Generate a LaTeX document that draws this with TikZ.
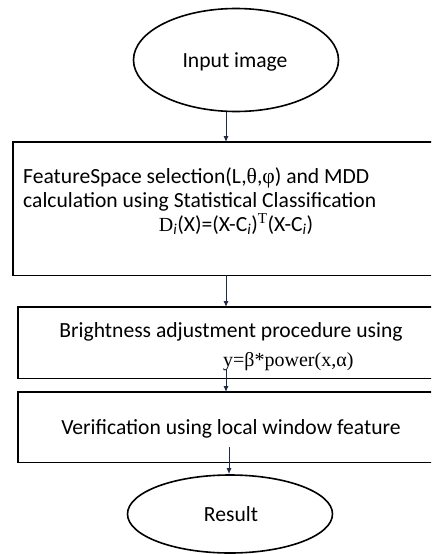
\documentclass[tikz,border=0pt]{standalone}
\usepackage{fontspec}
\setmainfont{Carlito}
\newfontfamily\tms{Liberation Serif}
\usetikzlibrary{arrows.meta,shapes.geometric}
\definecolor{arrowc}{HTML}{1F2A48}
\tikzset{
  term/.style={draw=black,line width=1.6pt,ellipse,inner sep=0pt},
  procbox/.style={rectangle,inner sep=0pt,anchor=north west},
  boxline/.style={draw=black,line width=1.8pt,line join=miter},
  txt/.style={inner sep=0pt,text height=13pt,text depth=2pt,font=\fontsize{21.6}{26}\selectfont},
  flow/.style={draw=arrowc,line width=1pt,-{Latex[length=6pt,width=5pt]}}
}
\begin{document}
\begin{tikzpicture}[x=1pt,y=-1pt]
\useasboundingbox (0,0) rectangle (431,554);
\begin{scope}
\clip (0,0) rectangle (431,554);
\fill[white] (0,0) rectangle (431,554);
% terminals
\node[term,minimum width=205pt,minimum height=103pt] (in) at (236,60) {};
\node[txt] (intext) at (235,62) {Input image};
\node[term,minimum width=205pt,minimum height=78pt] (res) at (230,514) {};
\node[txt] (restext) at (231,516) {Result};
% boxes (right side runs off the picture)
\node[procbox,minimum width=460pt,minimum height=133pt] (b1) at (13,142) {};
\node[procbox,minimum width=460pt,minimum height=71pt] (b2) at (18,307) {};
\node[procbox,minimum width=460pt,minimum height=70pt] (b3) at (18,392) {};
\foreach \b in {b1,b2,b3}
  \draw[boxline] (\b.north east) -- (\b.north west) -- (\b.south west) -- (\b.south east);
% texts
\node[txt,anchor=west] (t11) at (23,177.5) {FeatureSpace selection({L},{\tms θ},{\tms φ}) and MDD};
\node[txt,anchor=west] (t12) at (23,202) {calculation using Statistical Classification};
\node[txt] (t13) at (236,226) {{\tms\fontsize{20}{24}\selectfont D}\textsubscript{\textit{i}}(X)=(X-C\textsubscript{\textit{i}})\textsuperscript{\tms T}(X-C\textsubscript{\textit{i}})};
\node[txt] (t21) at (231,332) {Brightness adjustment procedure using};
\node[txt,anchor=west] (t22) at (223,361) {\tms\fontsize{20}{24}\selectfont y=β*power(x,α)};
\node[txt] (t31) at (231,429) {Verification using local window feature};
% connectors
\coordinate (c3) at (226,369);
\coordinate (c4) at (229,447);
\draw[flow] (in.south -| 226,0) -- (226,0 |- b1.north);
\draw[flow] (b1.south -| 226,0) -- (226,0 |- b2.north);
\draw[flow] (c3) -- (c3 |- b3.north);
\draw[flow] (c4) -- (c4 |- res.north);
\end{scope}
\end{tikzpicture}
\end{document}
